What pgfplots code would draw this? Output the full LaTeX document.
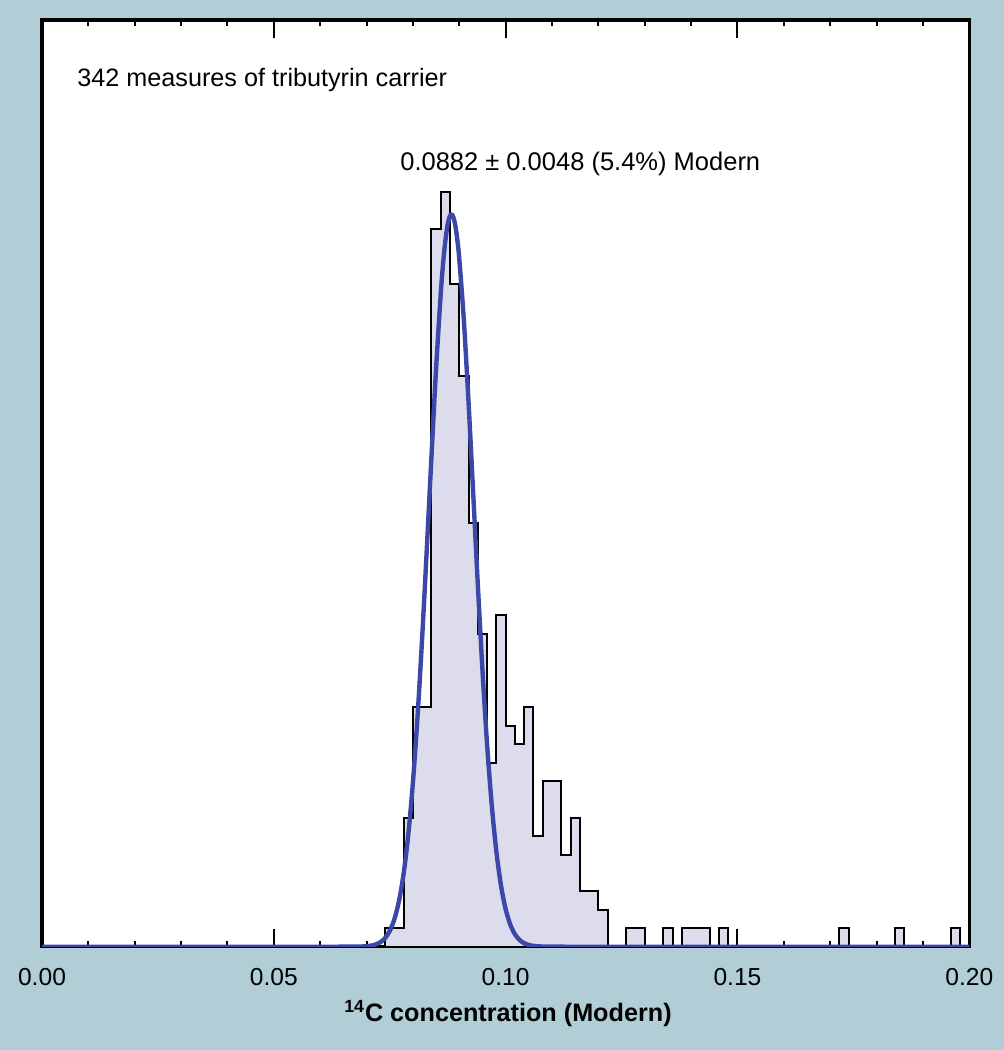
\documentclass[border=0pt]{standalone}
\usepackage{fontspec}
\setmainfont{Liberation Sans}
\usepackage{pgfplots}
\pgfplotsset{compat=1.18}
\definecolor{bgblue}{HTML}{B1CDD5}
\definecolor{barfill}{HTML}{DCDCEC}
\definecolor{curveblue}{HTML}{3D47A8}
\begin{document}
\begin{tikzpicture}
\fill[bgblue] (-21pt,-51.65pt) rectangle (481pt,473.35pt);
\begin{axis}[
  at={(0,0)}, anchor=south west,
  scale only axis, width=463.65pt, height=463.35pt,
  xmin=0, xmax=0.2, ymin=0, ymax=50.36,
  axis background/.style={fill=white},
  axis line style={line width=1.6pt, black},
  xtick={0,0.05,0.1,0.15,0.2},
  xticklabels={0.00,0.05,0.10,0.15,0.20},
  minor x tick num=4,
  ytick=\empty,
  tick align=inside,
  major tick length=9pt, minor tick length=3pt,
  every tick/.style={line width=1pt, black},
  xticklabel style={font=\fontsize{12.3}{14}\selectfont, anchor=base, yshift=-19.15pt},
  xlabel={\textsuperscript{14}C concentration (Modern)},
  xlabel style={at={(axis description cs:0.5,0)}, anchor=base, yshift=-37.15pt, xshift=1.2pt, font=\bfseries\fontsize{12.6}{15}\selectfont},
]
\addplot[const plot, fill=barfill, draw=black, line width=1pt] coordinates {
(0.072,0) (0.074,1) (0.076,1) (0.078,7) (0.080,13) (0.082,13) (0.084,39) (0.086,41)
(0.088,36) (0.090,31) (0.092,23) (0.094,17) (0.096,10) (0.098,18) (0.100,12) (0.102,11)
(0.104,13) (0.106,6) (0.108,9) (0.110,9) (0.112,5) (0.114,7) (0.116,3) (0.118,3)
(0.120,2) (0.122,0) (0.124,0) (0.126,1) (0.128,1) (0.130,0) (0.132,0) (0.134,1)
(0.136,0) (0.138,1) (0.140,1) (0.142,1) (0.144,0) (0.146,1) (0.148,0) (0.150,0)
(0.172,1) (0.174,0) (0.184,1) (0.186,0) (0.196,1) (0.198,0) (0.200,0)
} \closedcycle;
\addplot[curveblue, line width=2.2pt, smooth, line join=round, line cap=round] coordinates {
(0,0) (0.060,0) (0.064,0.0001) (0.066,0.0008) (0.068,0.0052) (0.069,0.0123) (0.070,0.028)
(0.071,0.060) (0.072,0.125) (0.073,0.248) (0.074,0.470) (0.075,0.856) (0.076,1.493)
(0.077,2.491) (0.078,3.980) (0.079,6.09) (0.080,8.93) (0.081,12.52) (0.082,16.82)
(0.083,21.64) (0.084,26.64) (0.085,31.42) (0.086,35.48) (0.0865,37.10) (0.087,38.37)
(0.0875,39.25) (0.088,39.72) (0.0885,39.77) (0.089,39.38) (0.0895,38.57) (0.090,37.38)
(0.091,33.98) (0.092,29.57) (0.093,24.64) (0.094,19.67) (0.095,15.02) (0.096,10.99)
(0.097,7.70) (0.098,5.17) (0.099,3.318) (0.100,2.041) (0.101,1.202) (0.102,0.677)
(0.103,0.366) (0.104,0.189) (0.105,0.094) (0.106,0.044) (0.108,0.0088) (0.110,0.0013)
(0.114,0) (0.2,0)
};
\node[anchor=base west, inner sep=0pt, font=\fontsize{12.6}{15}\selectfont] at (rel axis cs:0.0378,0.928) {342 measures of tributyrin carrier};
\node[anchor=base west, inner sep=0pt, font=\fontsize{12.75}{15}\selectfont] at (rel axis cs:0.386,0.838) {0.0882 ± 0.0048 (5.4\%) Modern};
\end{axis}
\end{tikzpicture}
\end{document}
